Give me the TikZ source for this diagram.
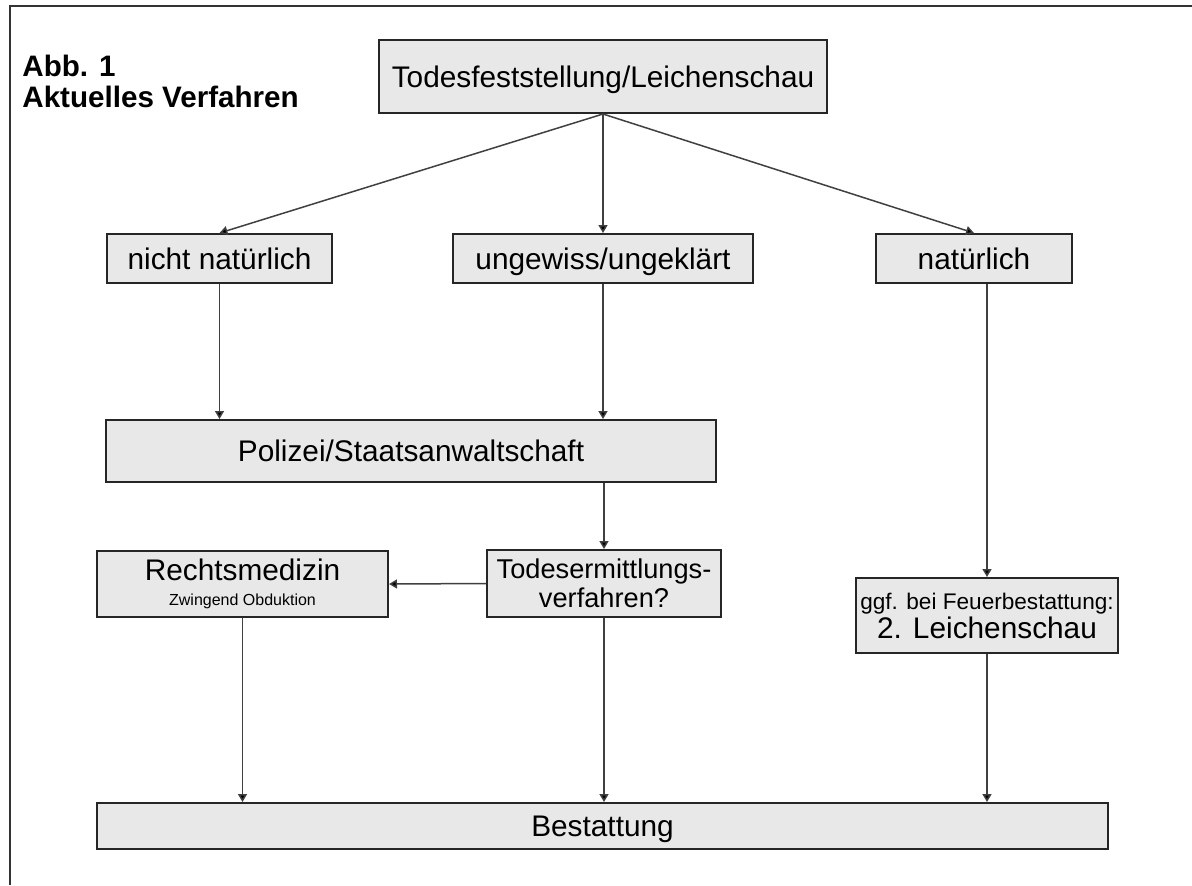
\documentclass[tikz,border=0pt]{standalone}
\usepackage{fontspec}
\setmainfont{Liberation Sans}
\usetikzlibrary{arrows.meta,positioning}

\begin{document}
\begin{tikzpicture}[x=0.5pt, y=-0.5pt,
        box/.style={draw=black!85, line width=1pt, fill=black!9, inner sep=0pt,
                align=center, font=\fontsize{14.9}{14.5}\selectfont},
        oneline/.style={text height=10.7pt, text depth=0pt},
        link/.style={draw=black!75, line width=0.75pt,
                -{Triangle[length=4pt,width=4.5pt,fill=black]}}]
        \useasboundingbox (0,0) rectangle (1192,885);
        \draw[black!80, line width=1pt] (10,885) -- (10,6) -- (1192,6);

        \node (titel) [anchor=north west, align=left, inner sep=0pt,
                font=\bfseries\fontsize{14.8}{15.3}\selectfont] at (22,55)
                {Abb. 1\\Aktuelles Verfahren};

        \node (tod) [box, oneline, minimum width=224pt, minimum height=36.5pt] at (603,76.5)
                {Todesfeststellung/Leichenschau};
        \node (nicht) [box, oneline, minimum width=112.5pt, minimum height=24.5pt] at (219.5,258.5)
                {nicht natürlich};
        \node (unge) [box, oneline, minimum width=150pt, minimum height=24.5pt] at (603,258.5)
                {ungewiss/ungeklärt};
        \node (nat) [box, oneline, minimum width=98pt, minimum height=24.5pt] at (974,258.5)
                {natürlich};
        \node (pol) [box, oneline, minimum width=305pt, minimum height=31pt] at (411,451)
                {Polizei/Staatsanwaltschaft};
        \node (tev) [box, minimum width=117pt, minimum height=33.5pt,
                font=\fontsize{13.6}{14.5}\selectfont] at (604,583.5)
                {Todesermittlungs-\\verfahren?};
        \node (rm) [box, minimum width=145.5pt, minimum height=33pt] at (242.5,584)
                {Rechtsmedizin\\[-2pt]{\fontsize{8}{9}\selectfont Zwingend Obduktion}};
        \node (leich) [box, minimum width=131pt, minimum height=37.5pt] at (987,615.5)
                {{\fontsize{11.3}{13}\selectfont ggf. bei Feuerbestattung:}\\2. Leichenschau};
        \node (best) [box, oneline, minimum width=505.5pt, minimum height=23pt] at (602.5,826)
                {Bestattung};

        \draw[link] (tod.south) -- (nicht.north);
        \draw[link] (tod.south) -- (unge.north);
        \draw[link] (tod.south) -- (nat.north);
        \draw[link] (nicht.south) -- (nicht.south |- pol.north);
        \draw[link] (unge.south) -- (unge.south |- pol.north);
        \draw[link] (pol.south -| tev.north) -- (tev.north);
        \draw[link] (tev.west) -- (rm.east);
        \draw[link] (nat.south -| leich.north) -- (leich.north);
        \draw[link] (rm.south) -- (rm.south |- best.north);
        \draw[link] (tev.south) -- (tev.south |- best.north);
        \draw[link] (leich.south) -- (leich.south |- best.north);
\end{tikzpicture}
\end{document}
